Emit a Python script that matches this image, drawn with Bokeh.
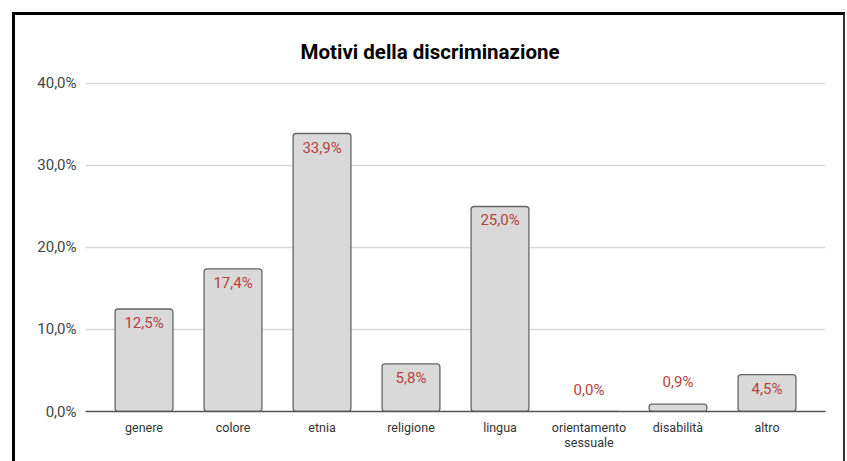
from bokeh.plotting import figure
from bokeh.models import FactorRange, Range1d, FixedTicker, ColumnDataSource
from bokeh.layouts import column
from bokeh.embed import file_html
from bokeh.resources import INLINE
from bokeh.core.properties import value

# ---- data ----
categories = ["genere", "colore", "etnia", "religione", "lingua",
              "orientamento\nsessuale", "disabilità", "altro"]
values = [12.5, 17.4, 33.9, 5.8, 25.0, 0.0, 0.9, 4.5]
y_ticks = [0, 10, 20, 30, 40]
y_tick_labels = ["0,0%", "10,0%", "20,0%", "30,0%", "40,0%"]
title_text = "Motivi della discriminazione"

value_labels = [f"{v:.1f}".replace(".", ",") + "%" for v in values]
label_inside = [v >= 2 for v in values]
label_offsets = [14 if ins else -22 for ins in label_inside]

src = ColumnDataSource(dict(cat=categories, val=values, lbl=value_labels, yoff=label_offsets))

FONT = "Roboto"

p = figure(
    x_range=FactorRange(factors=categories, range_padding=0.1575, range_padding_units="absolute"),
    y_range=Range1d(0, 40.12),
    width=828, height=446,
    output_backend="svg", toolbar_location=None,
    min_border_left=70, min_border_right=18, min_border_top=67, min_border_bottom=50,
)
p.outline_line_color = None
p.background_fill_color = "white"
p.border_fill_color = "white"

p.title.text = title_text
p.title.align = "left"
p.title.offset = 215
p.title.standoff = 38
p.title.text_font = FONT
p.title.text_font_style = "bold"
p.title.text_font_size = "20.5px"
p.title.text_color = "#000000"

p.vbar(x="cat", top="val", width=0.65, source=src,
       fill_color="#d9d9d9", line_color="#666666", line_width=1.3, border_radius=3)

p.text(x="cat", y="val", text="lbl", y_offset="yoff", source=src,
       text_align="center", text_baseline="middle", text_color="#b7413e",
       text_font=value(FONT), text_font_size="15px")

# grid
p.xgrid.grid_line_color = None
p.ygrid.grid_line_color = "#d9d9d9"
p.ygrid.grid_line_width = 1.5
p.yaxis.ticker = FixedTicker(ticks=y_ticks)
p.yaxis.major_label_overrides = {t: l for t, l in zip(y_ticks, y_tick_labels)}

# y axis
p.yaxis.axis_line_color = None
p.yaxis.major_tick_line_color = None
p.yaxis.minor_tick_line_color = None
p.yaxis.major_tick_in = 0
p.yaxis.major_tick_out = 0
p.yaxis.major_label_standoff = 9
p.yaxis.major_label_text_font = FONT
p.yaxis.major_label_text_font_size = "15px"
p.yaxis.major_label_text_color = "#444444"

# x axis
p.xaxis.axis_line_color = "#555555"
p.xaxis.axis_line_width = 1.5
p.xaxis.major_tick_line_color = None
p.xaxis.minor_tick_line_color = None
p.xaxis.major_tick_in = 0
p.xaxis.major_tick_out = 0
p.xaxis.major_label_standoff = 8
p.xaxis.major_label_text_font = FONT
p.xaxis.major_label_text_font_size = "12.5px"
p.xaxis.major_label_text_line_height = 1.0
p.xaxis.major_label_text_color = "#333333"

layout = column(p, margin=(12, 0, 0, 12),
                styles={"border-left": "3px solid #000000",
                        "border-top": "3px solid #000000",
                        "border-right": "2px solid #333333"})

open("out.html", "w").write(file_html(layout, INLINE))
